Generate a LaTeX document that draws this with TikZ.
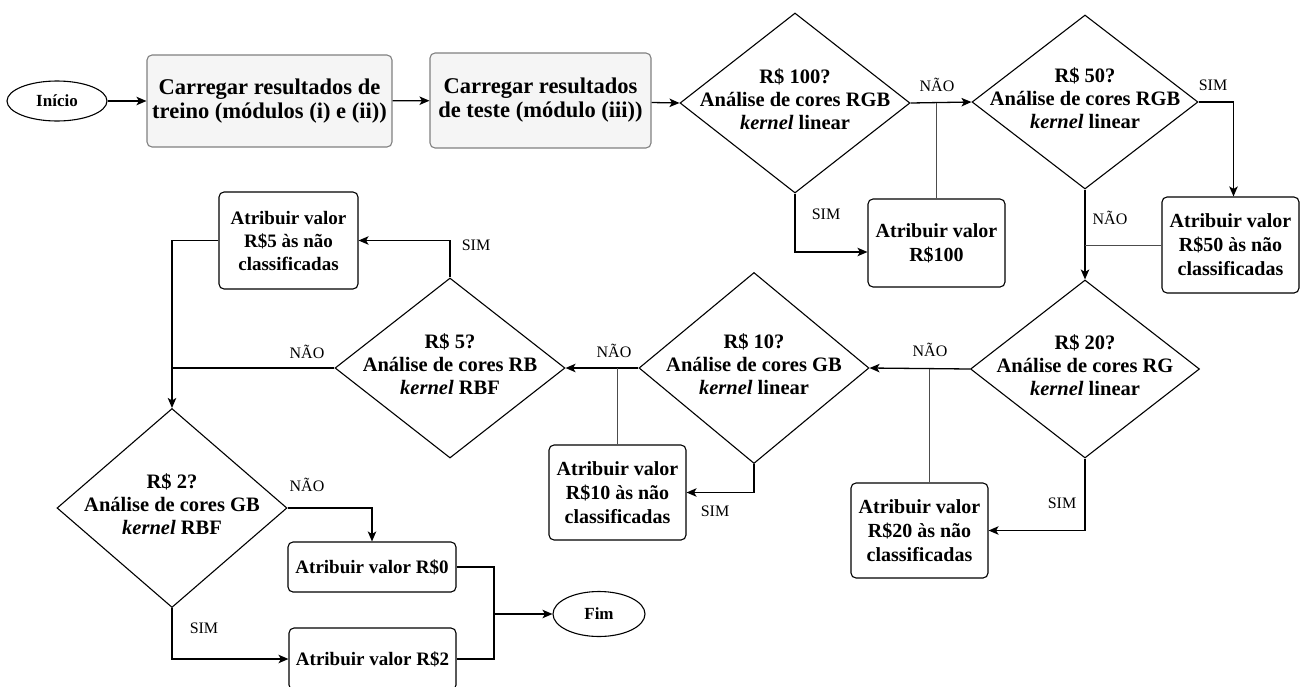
\documentclass[tikz,border=0pt]{standalone}
\usepackage{fontspec}
\setmainfont{Liberation Serif}
\usetikzlibrary{shapes.geometric,arrows.meta}
\newcommand{\zc}[1]{\makebox[0pt]{\smash{\raisebox{-4pt}{\begin{tabular}{@{}c@{}}#1\end{tabular}}}}}
\begin{document}
\begin{tikzpicture}[x=1pt,y=-1pt,
  >={Stealth[length=10pt,width=8.5pt,inset=2.5pt]},
  box/.style={draw=black, line width=1.1pt, rounded corners=5pt, fill=white, inner sep=0pt, align=center, font=\fontsize{20}{24}\selectfont\bfseries},
  gbox/.style={box, fill=black!4, draw=black!50, font=\fontsize{22.5}{24}\selectfont\bfseries},
  dia/.style={diamond, draw=black, line width=1.1pt, inner sep=0pt, font=\fontsize{20.5}{23}\selectfont\bfseries},
  term/.style={ellipse, draw=black, line width=1.1pt, inner sep=0pt, font=\fontsize{17}{20}\selectfont\bfseries},
  lab/.style={font=\fontsize{16}{18}\selectfont, inner sep=0pt},
  tie/.style={draw=black!70, line width=1pt},
  flow/.style={draw=black, line width=1.3pt}
]
\useasboundingbox (0,0) rectangle (1304,686);

% terminals and boxes
\node[term, minimum width=100pt, minimum height=40pt] (ini) at (57,101) {Início};
\node[gbox, minimum width=245pt, minimum height=92pt] (c1) at (269.5,101) {Carregar resultados de\\treino (módulos (i) e (ii))};
\node[gbox, minimum width=221pt, minimum height=95pt] (c2) at (540.5,100.5) {Carregar resultados\\de teste (módulo (iii))};

\node[dia, minimum width=230pt, minimum height=180pt] (d100) at (795,103) {\zc{R\$ 100?\\Análise de cores RGB\\\textit{kernel} linear}};
\node[dia, minimum width=226pt, minimum height=174pt] (d50) at (1085,102) {\zc{R\$ 50?\\Análise de cores RGB\\\textit{kernel} linear}};
\node[dia, minimum width=229pt, minimum height=178pt] (d20) at (1085,369) {\zc{R\$ 20?\\Análise de cores RG\\\textit{kernel} linear}};
\node[dia, minimum width=230pt, minimum height=191pt] (d10) at (754,368) {\zc{R\$ 10?\\Análise de cores GB\\\textit{kernel} linear}};
\node[dia, minimum width=230pt, minimum height=180pt] (d5) at (450,368) {\zc{R\$ 5?\\Análise de cores RB\\\textit{kernel} RBF}};
\node[dia, minimum width=230pt, minimum height=199pt] (d2) at (172,508) {\zc{R\$ 2?\\Análise de cores GB\\\textit{kernel} RBF}};

\node[box, minimum width=137pt, minimum height=88pt] (b100) at (936.5,243) {Atribuir valor\\R\$100};
\node[box, minimum width=137pt, minimum height=96pt] (b50) at (1230.5,245) {Atribuir valor\\R\$50 às não\\classificadas};
\node[box, minimum width=137pt, minimum height=95pt] (b20) at (919.5,530.5) {Atribuir valor\\R\$20 às não\\classificadas};
\node[box, minimum width=137pt, minimum height=95pt] (b10) at (617.5,492.5) {Atribuir valor\\R\$10 às não\\classificadas};
\node[box, minimum width=139pt, minimum height=97pt, font=\fontsize{19}{23}\selectfont\bfseries] (b5) at (288.5,240.5) {Atribuir valor\\R\$5 às não\\classificadas};
\node[box, minimum width=168pt, minimum height=50pt, font=\fontsize{19}{23}\selectfont\bfseries] (b0) at (372,567) {Atribuir valor R\$0};
\node[box, minimum width=167pt, minimum height=62pt, font=\fontsize{19}{23}\selectfont\bfseries] (b2) at (372.5,659) {Atribuir valor R\$2};
\node[term, minimum width=92pt, minimum height=45pt] (fim) at (599,614) {Fim};

\coordinate (jn) at (494,614);

% main flow
\draw[flow,->] (ini) -- (c1);
\draw[flow,->] (c1) -- (c2);
\draw[flow,->] (c2) -- (d100.west);
\draw[flow,->] (d100.east) -- (d50.west);
\draw[flow,->] (d100.south) |- ([yshift=-9pt]b100.west);
\draw[flow,->] (d50.east) -| ([xshift=3pt]b50.north);
\draw[flow,->] (d50.south) -- (d20.north);
\draw[flow,->] (d20.west) -- (d10.east);
\draw[flow,->] (d20.south) |- (b20.east);
\draw[flow,->] (d10.west) -- (d5.east);
\draw[flow,->] (d10.south) |- (b10.east);
\draw[flow,->] (d5.north) |- (b5.east);
\draw[flow,->] (b5.west) -| (d2.north);
\draw[flow] (d5.west) -- (d2.north |- d5.west);
\draw[flow,->] (d2.east) -| (b0.north);
\draw[flow,->] (d2.south) |- (b2.west);
\draw[flow] (b0.east) -| (jn);
\draw[flow] (b2.east) -| (jn);
\draw[flow,->] (jn) -- (fim.west);

% tie lines
\draw[tie] (b100.north) -- (b100.north |- d100.east);
\draw[tie] (b50.west) -- (d50.south |- b50.west);
\draw[tie] ([xshift=10pt]b20.north) -- ([xshift=10pt]b20.north |- d20.west);
\draw[tie] (b10.north) -- (b10.north |- d10.west);

% labels
\node[lab] (l1) at (937,85) {NÃO};
\node[lab] (l2) at (826,214) {SIM};
\node[lab] (l3) at (1213,85) {SIM};
\node[lab] (l4) at (1110,218) {NÃO};
\node[lab] (l5) at (930,350) {NÃO};
\node[lab] (l6) at (1062,503) {SIM};
\node[lab] (l7) at (614,351) {NÃO};
\node[lab] (l8) at (715,511) {SIM};
\node[lab] (l9) at (476,245) {SIM};
\node[lab] (l10) at (307,352) {NÃO};
\node[lab] (l11) at (307,485) {NÃO};
\node[lab] (l12) at (204,628) {SIM};
\end{tikzpicture}
\end{document}
